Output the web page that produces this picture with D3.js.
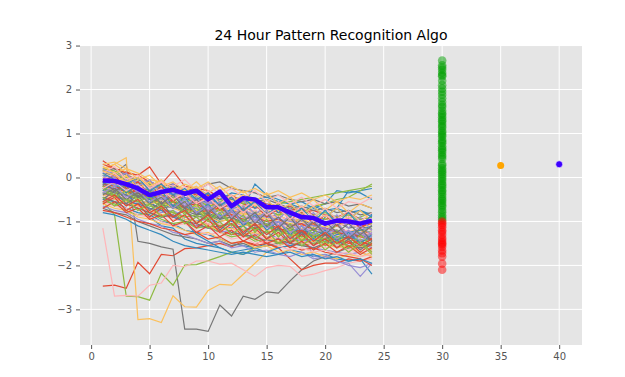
<!DOCTYPE html>
<html>
<head>
<meta charset="utf-8">
<script src="https://cdn.jsdelivr.net/npm/d3@7"></script>
<style>
  body { margin: 0; background: #fff; }
  text { font-family: "DejaVu Sans", sans-serif; }
</style>
</head>
<body>
<svg id="chart" width="625" height="377"></svg>
<script>
// hours 1..24 for every pattern
var hours = [1,2,3,4,5,6,7,8,9,10,11,12,13,14,15,16,17,18,19,20,21,22,23,24];

// similar historic patterns (one array per line, colours follow the ggplot cycle)
var patterns = [
  [-2.47,-2.45,-2.52,-1.93,-2.19,-1.75,-1.78,-1.62,-1.6,-1.55,-1.5,-1.58,-1.45,-1.52,-1.4,-1.48,-1.35,-1.42,-1.3,-1.38,-1.25,-1.32,-1.28,-1.35],
  [-0.15,-0.25,-0.5,-0.6,-0.9,-1.1,-1.15,-1.4,-1.5,-1.55,-1.6,-1.7,-1.65,-1.6,-1.5,-1.55,-1.45,-1.5,-1.4,-1.45,-1.35,-1.4,-1.3,-1.35],
  [-0.05,-0.1,-0.3,-0.35,-0.5,-0.55,-0.65,-0.8,-0.75,-0.9,-0.85,-1.0,-1.1,-1.05,-1.2,-1.15,-1.3,-1.25,-1.35,-1.3,-1.4,-1.35,-1.45,-1.4],
  [-0.2,0.1,0.3,-1.45,-1.5,-1.58,-1.63,-3.45,-3.45,-3.5,-2.9,-3.15,-2.7,-2.77,-2.6,-2.63,-2.35,-2.1,-1.9,-1.8,-1.7,-1.6,-1.55,-1.5],
  [0.15,0.3,0.45,-3.23,-3.21,-3.3,-2.69,-2.94,-2.95,-2.57,-2.43,-2.45,-2.2,-1.95,-1.7,-1.55,-1.45,-1.4,-1.3,-1.35,-1.2,-1.25,-1.15,-1.1],
  [-0.55,-0.85,-2.7,-2.71,-2.79,-2.18,-2.45,-1.99,-1.98,-1.89,-1.8,-1.7,-1.75,-1.6,-1.55,-1.5,-1.4,-1.45,-1.3,-1.35,-1.25,-1.3,-1.2,-1.25],
  [-1.15,-2.7,-2.68,-2.7,-2.45,-2.4,-2.0,-2.03,-1.9,-1.9,-1.97,-1.95,-2.1,-2.25,-2.05,-2.0,-2.02,-2.25,-2.2,-2.12,-2.05,-1.95,-1.9,-1.85],
  [0.38,0.2,0.12,0.05,0.24,-0.15,0.15,-0.2,-0.25,-0.3,-0.45,-0.4,-0.55,-0.5,-0.62,-0.7,-0.65,-0.8,-0.75,-0.85,-0.9,-0.8,-0.95,-0.9],
  [0.1,0.05,-0.1,-0.2,-0.15,-0.3,-0.4,-0.35,-0.5,-0.45,-0.6,-0.55,-0.7,-0.15,-0.4,-0.5,-0.6,-0.55,-0.7,-0.6,-0.3,-0.35,-0.3,-0.25],
  [-0.2,-0.3,-0.25,-0.4,-0.5,-0.45,-0.6,-0.7,-0.65,-0.8,-0.75,-0.9,-0.85,-1.0,-1.1,-1.05,-1.2,-1.3,-1.25,-1.4,-1.5,-1.45,-1.6,-1.55],
  [0.0,-0.1,-0.05,-0.2,-0.3,-0.35,-0.3,-0.45,-0.5,-0.6,-0.55,-0.7,-0.8,-0.75,-0.9,-0.85,-1.0,-0.95,-1.1,-1.05,-1.0,-1.15,-1.1,-1.2],
  [0.2,0.3,0.1,-0.1,-0.2,-0.15,-0.35,-0.5,-0.45,-0.6,-0.75,-0.7,-0.9,-1.0,-0.95,-1.1,-1.2,-1.15,-1.3,-1.4,-1.35,-1.5,-1.45,-1.6],
  [-0.3,-0.25,-0.4,-0.35,-0.5,-0.6,-0.55,-0.7,-0.65,-0.8,-0.7,-0.85,-0.8,-0.9,-0.75,-0.85,-0.7,-0.8,-0.65,-0.6,-0.5,-0.45,-0.3,-0.15],
  [-0.1,-0.2,-0.3,-0.25,-0.45,-0.55,-0.5,-0.65,-0.8,-0.75,-0.9,-1.0,-0.95,-1.1,-1.2,-1.15,-1.3,-1.25,-1.4,-1.35,-1.3,-1.45,-1.4,-1.5],
  [-0.05,0.0,-0.15,-0.3,-0.25,-0.4,-0.5,-0.45,-0.6,-0.55,-0.7,-0.8,-0.75,-0.5,-0.6,-0.65,-0.9,-1.1,-1.05,-1.2,-1.1,-1.25,-1.2,-1.3],
  [-0.5,-0.55,-0.7,-0.8,-0.85,-1.0,-1.05,-1.2,-1.25,-1.3,-1.4,-1.5,-1.55,-1.6,-1.7,-1.75,-1.65,-1.7,-1.8,-1.75,-1.85,-1.9,-1.85,-2.2],
  [0.05,-0.05,-0.2,-0.25,-0.35,-0.3,-0.45,-0.55,-0.6,-0.7,-0.65,-0.8,-0.9,-0.85,-1.0,-1.1,-1.05,-1.2,-1.8,-1.75,-1.9,-1.95,-2.25,-1.95],
  [-0.7,-0.8,-0.85,-1.0,-1.1,-1.2,-1.3,-1.35,-1.4,-1.5,-1.45,-1.55,-1.5,-1.6,-1.55,-1.5,-1.45,-1.4,-1.5,-1.45,-1.4,-1.35,-1.3,-1.25],
  [0.25,0.1,0.0,-0.1,-0.25,-0.3,-0.4,-0.35,-0.55,-0.6,-0.75,-0.7,-0.85,-0.8,-0.95,-1.0,-1.1,-1.05,-1.2,-1.15,-1.25,-1.3,-1.2,-1.35],
  [-0.15,-0.2,-0.3,-0.4,-0.55,-0.5,-0.65,-0.75,-0.7,-0.85,-0.95,-0.9,-1.05,-1.15,-1.1,-1.25,-1.2,-1.35,-1.3,-1.2,-1.1,-1.0,-0.9,-0.8],
  [0.15,0.05,-0.05,-0.15,-0.2,-0.3,-0.25,-0.4,-0.35,-0.5,-0.45,-0.55,-0.65,-0.6,-0.7,-0.8,-0.75,-0.9,-0.85,-0.95,-0.9,-1.0,-0.95,-1.05],
  [-0.35,-0.45,-0.5,-0.65,-0.7,-0.85,-0.9,-1.0,-1.1,-1.05,-1.2,-1.3,-1.25,-1.4,-1.5,-1.6,-1.85,-2.1,-2.0,-1.95,-1.95,-1.85,-1.9,-1.8],
  [-0.25,-0.3,-0.4,-0.6,-0.55,-0.75,-0.8,-0.95,-1.0,-0.9,-1.05,-1.15,-1.1,-1.3,-1.25,-1.4,-1.35,-1.5,-1.45,-1.55,-1.5,-1.6,-1.55,-1.65],
  [-0.45,-0.5,-0.55,-0.7,-0.75,-0.9,-0.85,-1.0,-1.1,-1.15,-1.25,-1.2,-1.35,-1.3,-1.45,-1.4,-1.55,-1.5,-1.6,-1.65,-1.7,-1.75,-1.7,-1.8],
  [0.1,0.05,-0.05,-0.1,-0.2,-0.25,-0.2,-0.35,-0.3,-0.15,-0.1,-0.25,-0.3,-0.35,-0.45,-0.4,-0.5,-0.55,-0.5,-0.6,-0.55,-0.65,-0.6,-0.7],
  [-0.6,-0.7,-0.75,-0.9,-0.95,-1.05,-1.1,-1.2,-1.3,-1.25,-1.4,-1.5,-1.45,-1.6,-1.55,-1.7,-1.65,-1.75,-1.7,-1.8,-1.85,-1.75,-1.8,-1.7],
  [0.2,0.15,0.0,-0.05,-0.15,-0.2,-0.3,-0.4,-0.35,-0.45,-0.5,-0.6,-0.55,-0.65,-0.7,-0.75,-0.8,-0.75,-0.85,-0.8,-0.9,-0.85,-0.95,-0.9],
  [-0.4,-0.45,-0.6,-0.65,-0.8,-0.85,-0.95,-1.0,-0.9,-1.05,-1.15,-1.1,-1.25,-1.2,-1.35,-1.4,-1.3,-1.45,-1.5,-1.6,-1.55,-1.65,-1.6,-1.7],
  [0.3,0.2,0.1,0.05,-0.1,-0.2,-0.15,-0.3,-0.4,-0.35,-0.5,-0.45,-0.6,-0.7,-0.65,-0.8,-0.75,-0.7,-0.85,-0.95,-0.9,-1.0,-1.1,-1.05],
  [-0.1,-0.15,-0.35,-0.45,-0.4,-0.6,-0.7,-0.65,-0.8,-0.9,-0.85,-1.0,-0.95,-1.1,-1.05,-1.2,-1.15,-1.3,-1.25,-0.9,-0.7,-0.3,-0.35,-0.5],
  [-0.3,-0.35,-0.5,-0.55,-0.7,-0.8,-0.75,-0.9,-1.0,-0.95,-1.1,-1.05,-1.2,-1.3,-1.25,-1.4,-1.35,-1.45,-1.4,-1.5,-1.45,-1.55,-1.5,-1.6],
  [-0.2,-0.25,-0.3,-0.45,-0.5,-0.65,-0.6,-0.75,-0.85,-0.8,-0.95,-0.9,-1.05,-1.0,-1.1,-1.2,-1.15,-1.25,-1.2,-1.3,-1.25,-1.35,-1.3,-1.4],
  [-0.05,-0.1,-0.25,-0.2,-0.35,-0.45,-0.4,-0.55,-0.65,-0.6,-0.75,-0.85,-0.8,-0.9,-0.95,-0.85,-1.0,-0.95,-1.05,-1.0,-1.1,-1.0,-1.05,-0.95],
  [-0.55,-0.6,-0.75,-0.85,-0.8,-0.95,-1.05,-1.0,-1.15,-1.1,-1.25,-1.35,-1.3,-1.45,-1.4,-1.5,-1.45,-1.55,-1.5,-1.45,-1.35,-1.3,-1.2,-1.15],
  [0.0,-0.1,-0.15,-0.3,-0.35,-0.5,-0.6,-0.55,-0.7,-0.65,-0.8,-0.9,-0.85,-1.0,-0.95,-1.05,-1.15,-1.1,-1.2,-1.15,-1.25,-1.2,-1.3,-1.25],
  [-0.15,-0.2,-0.35,-0.3,-0.45,-0.6,-0.55,-0.7,-0.8,-0.75,-0.9,-0.85,-1.0,-1.1,-1.05,-1.15,-1.25,-1.2,-1.35,-1.3,-1.4,-1.5,-1.45,-1.55],
  [0.05,0.0,-0.1,-0.15,-0.3,-0.25,-0.4,-0.5,-0.45,-0.6,-0.5,-0.35,-0.4,-0.5,-0.45,-0.55,-0.6,-0.7,-0.65,-0.75,-0.7,-0.8,-0.75,-0.85],
  [-0.65,-0.75,-0.8,-0.95,-1.05,-1.1,-1.25,-1.3,-1.4,-1.5,-1.45,-1.6,-1.55,-1.7,-1.65,-1.75,-1.8,-1.7,-1.85,-1.8,-1.9,-2.0,-2.05,-1.95],
  [-0.25,-0.35,-0.4,-0.5,-0.6,-0.7,-0.65,-0.8,-0.9,-0.85,-1.0,-0.95,-1.05,-1.15,-1.1,-1.2,-1.3,-1.25,-1.35,-1.3,-1.4,-1.35,-1.45,-1.4],
  [0.3,0.35,0.2,0.1,-0.05,-0.1,-0.25,-0.3,-0.45,-0.5,-0.65,-0.6,-0.75,-0.85,-0.8,-0.95,-1.05,-1.0,-1.15,-1.1,-1.2,-1.3,-1.25,-1.35],
  [-0.1,-0.05,-0.2,-0.3,-0.25,-0.4,-0.45,-0.55,-0.5,-0.65,-0.6,-0.7,-0.65,-0.8,-0.75,-0.85,-0.8,-0.9,-0.85,-0.95,-0.9,-1.0,-0.95,-1.05],
  [-0.3,-0.4,-0.45,-0.6,-0.7,-0.75,-0.9,-0.85,-1.0,-1.1,-1.05,-1.2,-1.15,-1.3,-1.4,-1.35,-1.5,-1.45,-1.55,-1.6,-1.55,-1.65,-1.7,-1.65],
  [-0.75,-0.8,-0.9,-1.0,-1.05,-1.15,-1.2,-1.3,-1.25,-1.4,-1.35,-1.5,-1.45,-1.55,-1.5,-1.6,-1.55,-1.65,-1.6,-1.7,-1.75,-1.8,-1.85,-2.0],
  [-0.35,-0.4,-0.55,-0.6,-0.7,-0.75,-0.9,-1.0,-1.3,-1.45,-1.6,-1.7,-1.75,-1.65,-1.7,-1.6,-1.55,-1.5,-1.45,-1.4,-1.3,-1.25,-1.2,-1.1],
  [0.15,0.1,-0.05,-0.1,-0.2,-0.3,-0.35,-0.45,-0.5,-0.6,-0.55,-0.7,-0.75,-0.85,-0.9,-0.95,-1.0,-1.05,-1.1,-1.15,-1.2,-1.25,-1.3,-1.35],
  [-0.45,-0.55,-0.6,-0.7,-0.8,-0.9,-0.85,-1.0,-1.05,-1.15,-1.1,-1.25,-1.3,-1.35,-1.45,-1.4,-1.5,-1.55,-1.6,-1.5,-1.45,-1.55,-1.6,-1.5],
  [-0.2,-0.3,-0.35,-0.5,-0.6,-0.55,-0.7,-0.8,-0.75,-0.9,-1.0,-0.95,-1.1,-1.05,-1.2,-1.3,-1.25,-1.4,-1.35,-1.5,-1.6,-1.55,-1.7,-1.8],
  [0.05,0.1,-0.05,-0.15,-0.1,-0.25,-0.35,-0.3,-0.45,-0.4,-0.55,-0.5,-0.6,-0.55,-0.7,-0.6,-0.55,-0.5,-0.45,-0.4,-0.35,-0.3,-0.25,-0.2],
  [-0.55,-0.65,-0.7,-0.85,-0.9,-1.0,-1.1,-1.05,-1.2,-1.3,-1.25,-1.4,-1.35,-1.5,-1.45,-1.55,-1.65,-1.6,-1.7,-1.65,-1.75,-1.7,-1.8,-1.75],
  [-0.2,-0.25,-0.2,-0.35,-0.45,-0.4,-0.55,-0.65,-0.6,-0.75,-0.7,-0.85,-0.95,-0.9,-1.0,-0.95,-1.1,-1.05,-1.2,-1.15,-1.25,-1.3,-1.35,-1.4],
  [-0.8,-0.85,-0.95,-1.1,-1.2,-1.3,-1.45,-1.55,-1.6,-1.65,-1.7,-1.75,-1.7,-1.75,-1.8,-1.75,-1.7,-1.8,-1.75,-1.85,-1.8,-1.9,-1.85,-1.95],
  [-0.1,-0.15,-0.2,-0.3,-0.4,-0.5,-0.45,-0.6,-0.7,-0.65,-0.8,-0.75,-0.9,-0.95,-1.05,-1.0,-1.1,-1.2,-1.15,-1.25,-1.2,-1.3,-1.25,-1.35],
  [0.15,0.2,0.05,-0.05,-0.1,-0.2,-0.15,-0.3,-0.25,-0.4,-0.35,-0.5,-0.45,-0.55,-0.5,-0.6,-0.7,-0.65,-0.75,-0.7,-0.8,-0.75,-0.85,-0.8],
  [-0.4,-0.5,-0.55,-0.65,-0.75,-0.85,-0.8,-0.95,-1.0,-1.1,-1.2,-1.15,-1.3,-1.25,-1.35,-1.45,-1.4,-1.5,-1.45,-1.55,-1.5,-1.6,-1.55,-1.65],
  [-0.35,-0.4,-0.5,-0.55,-0.65,-0.7,-0.8,-0.9,-0.85,-1.0,-1.1,-1.05,-1.2,-1.15,-1.25,-1.2,-1.3,-1.35,-1.3,-1.4,-1.35,-1.45,-1.4,-1.5],
  [0.1,0.0,-0.1,-0.2,-0.25,-0.35,-0.45,-0.4,-0.55,-0.5,-0.65,-0.7,-0.8,-0.75,-0.85,-0.9,-0.95,-0.9,-1.0,-1.05,-1.1,-1.05,-1.15,-1.2],
  [-0.1,0.05,-0.25,-0.1,-0.4,-0.2,-0.55,-0.35,-0.6,-0.4,-0.75,-0.55,-0.8,-0.6,-0.9,-0.7,-0.95,-0.8,-1.05,-0.85,-1.1,-0.9,-1.15,-1.0],
  [-0.3,-0.1,-0.35,-0.15,-0.5,-0.3,-0.65,-0.45,-0.8,-0.6,-0.95,-0.7,-1.1,-0.85,-1.2,-1.0,-1.3,-1.1,-1.4,-1.2,-1.45,-1.25,-1.5,-1.3],
  [0.2,0.0,0.1,-0.2,-0.05,-0.35,-0.15,-0.5,-0.3,-0.6,-0.4,-0.75,-0.5,-0.85,-0.6,-0.95,-0.7,-1.0,-0.8,-1.1,-0.85,-1.15,-0.9,-1.2],
  [-0.5,-0.3,-0.6,-0.4,-0.75,-0.55,-0.9,-0.7,-1.05,-0.8,-1.2,-0.95,-1.3,-1.05,-1.4,-1.15,-1.5,-1.25,-1.55,-1.3,-1.6,-1.4,-1.65,-1.45],
  [0.0,-0.15,0.05,-0.25,-0.1,-0.4,-0.2,-0.3,-0.1,-0.35,-0.2,-0.45,-0.3,-0.55,-0.35,-0.6,-0.45,-0.7,-0.5,-0.75,-0.55,-0.8,-0.6,-0.7],
  [-0.2,-0.4,-0.15,-0.5,-0.3,-0.65,-0.45,-0.8,-0.6,-0.95,-0.7,-1.1,-0.85,-1.25,-0.95,-1.35,-1.05,-1.45,-1.15,-1.5,-1.2,-1.6,-1.3,-1.55],
  [0.1,0.25,-0.05,0.05,-0.2,-0.1,-0.35,-0.2,-0.5,-0.3,-0.6,-0.4,-0.7,-0.5,-0.8,-0.55,-0.85,-0.65,-0.9,-0.7,-0.95,-0.75,-1.0,-0.8],
  [-0.6,-0.45,-0.75,-0.6,-0.9,-0.7,-1.0,-0.85,-1.15,-0.95,-1.25,-1.05,-1.35,-1.15,-1.4,-1.25,-1.5,-1.3,-1.55,-1.4,-1.6,-1.45,-1.7,-1.5],
  [-0.15,-0.05,-0.3,-0.2,-0.45,-0.3,-0.2,-0.4,-0.25,-0.5,-0.35,-0.6,-0.45,-0.7,-0.5,-0.8,-0.6,-0.85,-0.65,-0.9,-0.7,-0.95,-0.75,-0.9],
  [0.05,-0.2,-0.05,-0.35,-0.2,-0.5,-0.35,-0.65,-0.45,-0.75,-0.55,-0.9,-0.65,-1.0,-0.75,-1.1,-0.85,-1.2,-0.95,-1.25,-1.0,-1.35,-1.1,-1.3],
  [-0.4,-0.25,-0.5,-0.35,-0.6,-0.45,-0.7,-0.55,-0.85,-0.65,-0.95,-0.75,-1.0,-0.8,-1.1,-0.9,-1.15,-0.95,-1.2,-1.0,-1.25,-1.05,-1.3,-1.1],
  [0.25,0.1,0.2,-0.05,0.05,-0.2,-0.1,-0.3,-0.2,-0.45,-0.3,-0.55,-0.4,-0.65,-0.5,-0.75,-0.6,-0.85,-0.65,-0.9,-0.7,-0.95,-0.75,-1.0],
  [-0.25,-0.45,-0.3,-0.55,-0.45,-0.7,-0.55,-0.85,-0.7,-1.0,-0.8,-1.1,-0.95,-1.2,-1.05,-1.35,-1.15,-1.45,-1.25,-1.55,-1.35,-1.6,-1.45,-1.7],
  [-0.05,0.1,-0.15,0.0,-0.25,-0.1,-0.2,-0.05,-0.3,-0.15,-0.4,-0.25,-0.45,-0.3,-0.55,-0.4,-0.6,-0.45,-0.65,-0.5,-0.7,-0.55,-0.6,-0.45],
  [-0.7,-0.55,-0.8,-0.7,-0.95,-0.85,-1.1,-1.0,-1.25,-1.1,-1.35,-1.2,-1.45,-1.3,-1.5,-1.4,-1.6,-1.45,-1.65,-1.5,-1.7,-1.55,-1.75,-1.6],
  [0.1,-0.05,-0.15,0.0,-0.3,-0.15,-0.4,-0.25,-0.5,-0.35,-0.65,-0.45,-0.75,-0.55,-0.85,-0.65,-0.9,-0.7,-1.0,-0.75,-1.05,-0.8,-1.1,-0.85],
  [-0.35,-0.2,-0.45,-0.3,-0.55,-0.4,-0.7,-0.5,-0.8,-0.65,-0.9,-0.75,-1.05,-0.9,-1.15,-1.0,-1.25,-1.1,-1.3,-1.15,-1.4,-1.2,-1.45,-1.25],
  [-0.1,-0.3,-0.2,-0.45,-0.3,-0.6,-0.4,-0.7,-0.5,-0.8,-0.6,-0.95,-0.7,-1.05,-0.8,-1.15,-0.9,-1.25,-1.0,-1.3,-1.05,-1.4,-1.15,-1.45],
  [0.15,0.05,-0.1,0.0,-0.2,-0.05,-0.3,-0.15,-0.25,-0.1,-0.3,-0.2,-0.35,-0.25,-0.4,-0.3,-0.45,-0.35,-0.5,-0.4,-0.55,-0.45,-0.5,-0.4],
  [-0.45,-0.65,-0.5,-0.75,-0.6,-0.9,-0.75,-1.05,-0.9,-1.15,-1.0,-1.3,-1.1,-1.4,-1.2,-1.5,-1.3,-1.55,-1.35,-1.65,-1.45,-1.7,-1.5,-1.75],
  [-0.25,-0.1,-0.3,-0.15,-0.4,-0.25,-0.5,-0.35,-0.6,-0.45,-0.7,-0.55,-0.8,-0.6,-0.85,-0.7,-0.95,-0.75,-1.0,-0.85,-1.05,-0.9,-1.1,-0.95],
  [-0.55,-0.4,-0.65,-0.5,-0.8,-0.65,-0.9,-0.75,-1.05,-0.85,-1.15,-0.95,-1.25,-1.05,-1.3,-1.1,-1.4,-1.2,-1.45,-1.25,-1.5,-1.35,-1.55,-1.4]
];

// the current pattern (bold line)
var currentPattern = [-0.07,-0.08,-0.15,-0.25,-0.4,-0.33,-0.28,-0.37,-0.3,-0.5,-0.32,-0.65,-0.47,-0.5,-0.68,-0.68,-0.8,-0.9,-0.92,-1.05,-0.98,-1.0,-1.05,-0.98];

// outcomes of the similar patterns, plotted at x = 30
var outcomeX = 30;
var outcomes = [2.66,2.55,2.5,2.45,2.38,2.33,2.3,2.2,2.1,2.02,1.95,1.88,1.8,1.72,1.65,1.6,1.52,
  1.46,1.42,1.37,1.31,1.28,1.22,1.17,1.13,1.06,1.02,0.97,0.93,0.86,0.82,0.78,0.71,0.66,0.62,0.57,0.51,0.47,0.42,
  0.31,0.27,0.21,0.16,0.12,0.07,0.02,-0.03,-0.08,-0.14,-0.18,-0.23,-0.29,-0.33,-0.38,-0.44,-0.49,-0.53,-0.58,-0.63,-0.67,
  -0.74,-0.79,-0.86,-0.91,-0.96,
  -1.0,-1.04,-1.08,-1.13,-1.2,-1.24,-1.3,-1.37,-1.42,-1.47,-1.5,-1.53,-1.58,-1.66,-1.72,-1.8,-1.96,-2.1];
var currentOutcome = -1.0; // outcomes above this are green, below are red

// average outcome and actual outcome
var avgOutcome = {x: 35, y: 0.27};
var realOutcome = {x: 40, y: 0.3};

var xTicks = [0,5,10,15,20,25,30,35,40];
var yTicks = [-3,-2,-1,0,1,2,3];

var cycle = ["#E24A33", "#348ABD", "#988ED5", "#777777", "#FBC15E", "#8EBA42", "#FFB5B8"];

drawChart();

function drawChart() {
  var svg = d3.select("#chart");
  var left = 80, right = 582, plotTop = 46, plotBottom = 345;

  var x = d3.scaleLinear().domain([-0.95, 41.95]).range([left, right]);
  var y = d3.scaleLinear().domain([-3.81, 2.99]).range([plotBottom, plotTop]);

  svg.append("rect")
    .attr("x", left).attr("y", plotTop)
    .attr("width", right - left).attr("height", plotBottom - plotTop)
    .attr("fill", "#E5E5E5");

  // grid
  svg.append("g").selectAll("line").data(xTicks).enter().append("line")
    .attr("x1", d => x(d)).attr("x2", d => x(d))
    .attr("y1", plotTop).attr("y2", plotBottom)
    .attr("stroke", "#fff").attr("stroke-width", 1);
  svg.append("g").selectAll("line").data(yTicks).enter().append("line")
    .attr("x1", left).attr("x2", right)
    .attr("y1", d => y(d)).attr("y2", d => y(d))
    .attr("stroke", "#fff").attr("stroke-width", 1);

  // axes
  var xAxis = svg.append("g")
    .attr("transform", "translate(0," + plotBottom + ")")
    .call(d3.axisBottom(x).tickValues(xTicks).tickSize(4).tickPadding(4));
  var yAxis = svg.append("g")
    .attr("transform", "translate(" + left + ",0)")
    .call(d3.axisLeft(y).tickValues(yTicks).tickSize(4).tickPadding(4)
      .tickFormat(d => (d < 0 ? "\u2212" + Math.abs(d) : d)));

  [xAxis, yAxis].forEach(function(a) {
    a.select(".domain").remove();
    a.selectAll("line").attr("stroke", "#555");
    a.selectAll("text").attr("fill", "#555").style("font-size", "10px").style("font-family", "DejaVu Sans");
  });

  svg.append("clipPath").attr("id", "plotClip")
    .append("rect").attr("x", left).attr("y", plotTop).attr("width", right - left).attr("height", plotBottom - plotTop);

  var plot = svg.append("g").attr("clip-path", "url(#plotClip)");

  var line = d3.line()
    .x((d, i) => x(hours[i]))
    .y(d => y(d));

  plot.append("g").selectAll("path").data(patterns).enter().append("path")
    .attr("d", line)
    .attr("fill", "none")
    .attr("stroke", (d, i) => cycle[i % cycle.length])
    .attr("stroke-width", 1.2);

  plot.append("path")
    .datum(currentPattern)
    .attr("d", line)
    .attr("fill", "none")
    .attr("stroke", "#3D00FF")
    .attr("stroke-width", 4.5)
    .attr("stroke-linejoin", "round");

  plot.append("g").selectAll("circle").data(outcomes).enter().append("circle")
    .attr("cx", x(outcomeX))
    .attr("cy", d => y(d))
    .attr("r", 4.3)
    .attr("fill", d => (d > currentOutcome ? "#00A000" : "#FF0000"))
    .attr("fill-opacity", 0.5);

  plot.append("circle")
    .attr("cx", x(avgOutcome.x)).attr("cy", y(avgOutcome.y))
    .attr("r", 3.5).attr("fill", "#FFA500");

  plot.append("circle")
    .attr("cx", x(realOutcome.x)).attr("cy", y(realOutcome.y))
    .attr("r", 3.5).attr("fill", "#3D00FF")
    .attr("stroke", "#fff").attr("stroke-width", 0.6);

  svg.append("text")
    .attr("x", (left + right) / 2)
    .attr("y", plotTop - 6)
    .attr("text-anchor", "middle")
    .style("font-size", "14px")
    .attr("fill", "#000")
    .text("24 Hour Pattern Recognition Algo");
}
</script>
</body>
</html>
